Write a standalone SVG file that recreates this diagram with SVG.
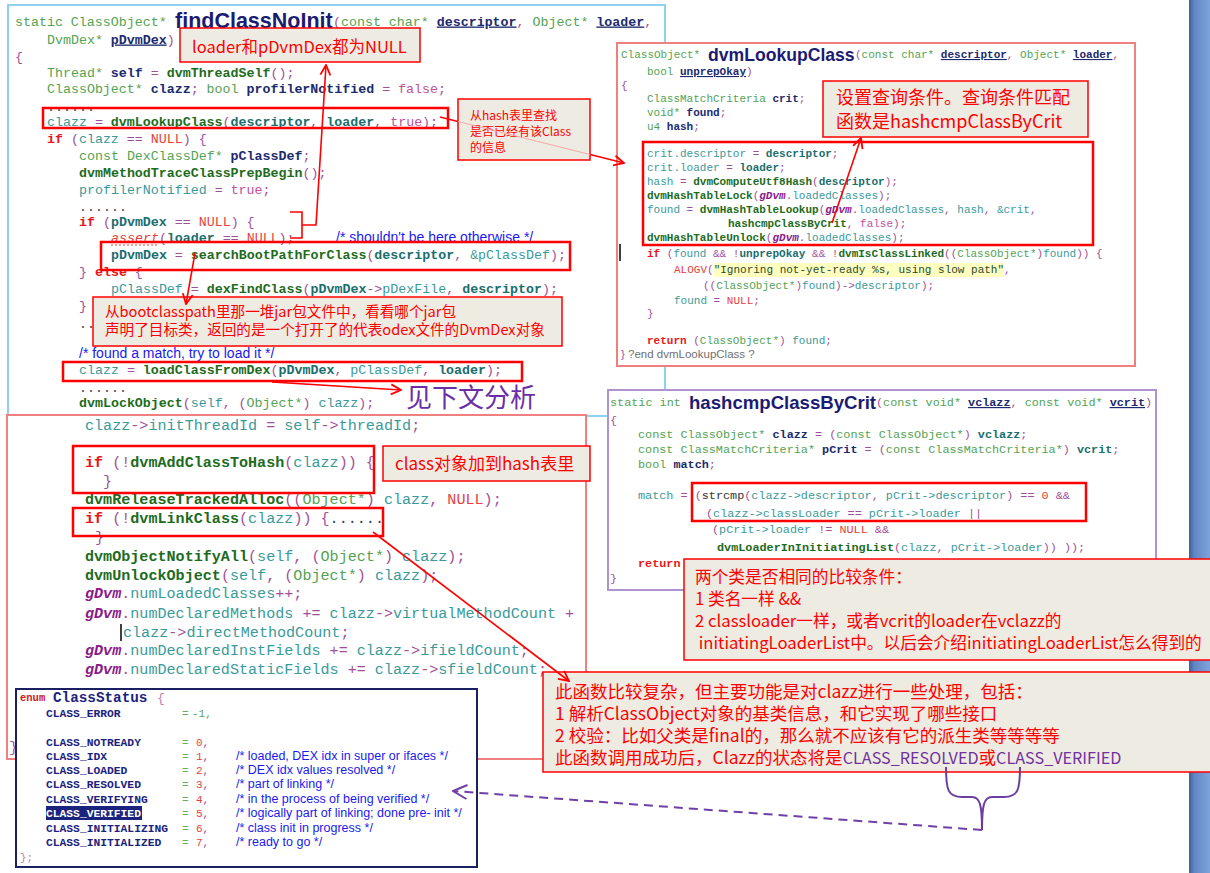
<svg xmlns="http://www.w3.org/2000/svg" width="1210" height="873" viewBox="0 0 1210 873" xml:space="preserve">
<defs>
<style>
.m{font-family:"Liberation Mono",monospace;white-space:pre}
.s13{font-size:13.3px}
.s15{font-size:15.1px}
.s11{font-size:11px}
.s118{font-size:11.8px}
.se{font-size:11.3px;font-weight:bold;fill:#1a237e}
.ty{fill:#53a353}
.v{fill:#1c2a6e;font-weight:bold}
.p{fill:#1c2a6e;font-weight:bold;text-decoration:underline}
.fn{fill:#1d6b1d;font-weight:bold}
.kw{fill:#e8161b;font-weight:bold}
.nu{fill:#e84040}
.pu{fill:#a0509a}
.t{fill:#3a9a9a}
.tb{fill:#1a6e6e;font-weight:bold}
.pk{fill:#c0509a}
.gd{fill:#8b1a8b;font-weight:bold;font-style:italic}
.dk{fill:#334455}
.cm{font-family:"Liberation Sans",Arial,sans-serif;fill:#1a1aee;white-space:pre}
.title{font-family:"Liberation Sans",Arial,sans-serif;font-weight:bold;fill:#1b1b72}
.call{fill:#eeece2;stroke:#ff0000;stroke-width:1.5}
.ct{font-family:"Noto Sans CJK SC","Noto Sans",sans-serif;fill:#ff0000;white-space:pre}
.cv{fill:#7030a0}
.hl{fill:none;stroke:#ff0000;stroke-width:2.5}
.conn{fill:none;stroke:#ff0000;stroke-width:1.6}
.node{fill:#ffffff}
</style>
<marker id="ar" viewBox="0 0 12 12" refX="11" refY="6" markerWidth="12" markerHeight="12" markerUnits="userSpaceOnUse" orient="auto"><path d="M1,1 L11,6 L1,11" fill="none" stroke="#ff0000" stroke-width="1.8"/></marker>
<marker id="ap" viewBox="0 0 16 16" refX="15" refY="8" markerWidth="16" markerHeight="16" markerUnits="userSpaceOnUse" orient="auto"><path d="M1,1 L15,8 L1,15" fill="none" stroke="#7040a8" stroke-width="2"/></marker>
<linearGradient id="strip" x1="0" x2="1" y1="0" y2="0"><stop offset="0" stop-color="#3f5f95"/><stop offset="0.25" stop-color="#6286c4"/><stop offset="1" stop-color="#7ea3dc"/></linearGradient>
</defs>
<rect x="0" y="0" width="1210" height="873" fill="#ffffff"/>
<rect x="1189" y="0" width="21" height="873" fill="url(#strip)"/>

<g id="findClassNoInit">
<rect x="8" y="5" width="657" height="411" fill="#ffffff" stroke="#8fd0ee" stroke-width="2"/>
<text class="m s13" x="15" y="25.5"><tspan class="ty">static ClassObject* </tspan></text>
<text class="title" x="175" y="28" font-size="21.5">findClassNoInit</text>
<text class="m s13" x="333" y="25.5"><tspan class="pu">(</tspan><tspan class="ty">const char* </tspan><tspan class="p">descriptor</tspan><tspan class="pu">, </tspan><tspan class="ty">Object* </tspan><tspan class="p">loader</tspan><tspan class="pu">,</tspan></text>
<text class="m s13" x="47" y="43.5"><tspan class="ty">DvmDex* </tspan><tspan class="p">pDvmDex</tspan><tspan class="pu">)</tspan></text>
<text class="m s13" x="15" y="61"><tspan class="pu">{</tspan></text>
<text class="m s13" x="47" y="76.5"><tspan class="ty">Thread* </tspan><tspan class="v">self</tspan><tspan class="pu"> = </tspan><tspan class="fn">dvmThreadSelf</tspan><tspan class="pu">();</tspan></text>
<text class="m s13" x="47" y="93"><tspan class="ty">ClassObject* </tspan><tspan class="v">clazz</tspan><tspan class="pu">; </tspan><tspan class="ty">bool </tspan><tspan class="v">profilerNotified</tspan><tspan class="pu"> = </tspan><tspan class="pk">false</tspan><tspan class="pu">;</tspan></text>
<text class="m s13 dk" x="47" y="111">......</text>
<text class="m s13" x="47" y="126"><tspan class="t">clazz</tspan><tspan class="pu"> = </tspan><tspan class="fn">dvmLookupClass</tspan><tspan class="pu">(</tspan><tspan class="tb">descriptor</tspan><tspan class="pu">, </tspan><tspan class="tb">loader</tspan><tspan class="pu">, </tspan><tspan class="pk">true</tspan><tspan class="pu">);</tspan></text>
<text class="m s13" x="47" y="142.5"><tspan class="kw">if</tspan><tspan class="pu"> (</tspan><tspan class="t">clazz</tspan><tspan class="pu"> == </tspan><tspan class="nu">NULL</tspan><tspan class="pu">) {</tspan></text>
<text class="m s13" x="79" y="159.5"><tspan class="ty">const DexClassDef* </tspan><tspan class="v">pClassDef</tspan><tspan class="pu">;</tspan></text>
<text class="m s13" x="79" y="176.5"><tspan class="fn">dvmMethodTraceClassPrepBegin</tspan><tspan class="pu">();</tspan></text>
<text class="m s13" x="79" y="193.5"><tspan class="t">profilerNotified</tspan><tspan class="pu"> = </tspan><tspan class="pk">true</tspan><tspan class="pu">;</tspan></text>
<text class="m s13 dk" x="79" y="211">......</text>
<text class="m s13" x="79" y="225.5"><tspan class="kw">if</tspan><tspan class="pu"> (</tspan><tspan class="tb">pDvmDex</tspan><tspan class="pu"> == </tspan><tspan class="nu">NULL</tspan><tspan class="pu">) {</tspan></text>
<text class="m s13" x="111" y="241.5"><tspan class="nu" font-style="italic">assert</tspan><tspan class="pu">(</tspan><tspan class="tb">loader</tspan><tspan class="pu"> == </tspan><tspan class="nu">NULL</tspan><tspan class="pu">);</tspan></text>
<line x1="111" y1="245" x2="159" y2="245" stroke="#e84040" stroke-width="1" stroke-dasharray="2,2"/>
<text class="cm" x="336" y="242" font-size="14">/* shouldn't be here otherwise */</text>
<text class="m s13" x="111" y="258.5"><tspan class="tb">pDvmDex</tspan><tspan class="pu"> = </tspan><tspan class="fn">searchBootPathForClass</tspan><tspan class="pu">(</tspan><tspan class="tb">descriptor</tspan><tspan class="pu">, </tspan><tspan class="t">&amp;pClassDef</tspan><tspan class="pu">);</tspan></text>
<text class="m s13" x="79" y="275.5"><tspan class="pu">} </tspan><tspan class="kw">else</tspan><tspan class="pu"> {</tspan></text>
<text class="m s13" x="111" y="292.5"><tspan class="t">pClassDef</tspan><tspan class="pu"> = </tspan><tspan class="fn">dexFindClass</tspan><tspan class="pu">(</tspan><tspan class="tb">pDvmDex</tspan><tspan class="pu">-&gt;</tspan><tspan class="t">pDexFile</tspan><tspan class="pu">, </tspan><tspan class="tb">descriptor</tspan><tspan class="pu">);</tspan></text>
<text class="m s13" x="79" y="309.5"><tspan class="pu">}</tspan></text>
<text class="m s13 dk" x="79" y="327.5">..</text>
<text class="cm" x="79" y="358" font-size="14">/* found a match, try to load it */</text>
<text class="m s13" x="79" y="373.5"><tspan class="t">clazz</tspan><tspan class="pu"> = </tspan><tspan class="fn">loadClassFromDex</tspan><tspan class="pu">(</tspan><tspan class="tb">pDvmDex</tspan><tspan class="pu">, </tspan><tspan class="t">pClassDef</tspan><tspan class="pu">, </tspan><tspan class="tb">loader</tspan><tspan class="pu">);</tspan></text>
<text class="m s13 dk" x="79" y="391.5">......</text>
<text class="m s13" x="79" y="406.5"><tspan class="fn">dvmLockObject</tspan><tspan class="pu">(</tspan><tspan class="t">self</tspan><tspan class="pu">, (</tspan><tspan class="ty">Object*</tspan><tspan class="pu">) </tspan><tspan class="t">clazz</tspan><tspan class="pu">);</tspan></text>
</g>

<g id="findClassNoInit-part2">
<rect x="7" y="415" width="579" height="344" fill="#ffffff" stroke="#f08080" stroke-width="2"/>
<text class="m s15" x="85" y="430"><tspan class="t">clazz</tspan><tspan class="pu">-&gt;</tspan><tspan class="t">initThreadId</tspan><tspan class="pu"> = </tspan><tspan class="t">self</tspan><tspan class="pu">-&gt;</tspan><tspan class="t">threadId</tspan><tspan class="pu">;</tspan></text>
<text class="m s15" x="85" y="467"><tspan class="kw">if</tspan><tspan class="pu"> (!</tspan><tspan class="fn">dvmAddClassToHash</tspan><tspan class="pu">(</tspan><tspan class="t">clazz</tspan><tspan class="pu">)) {</tspan></text>
<text class="m s15" x="103" y="486"><tspan class="pu">}</tspan></text>
<text class="m s15" x="85" y="504"><tspan class="fn">dvmReleaseTrackedAlloc</tspan><tspan class="pu">((</tspan><tspan class="ty">Object*</tspan><tspan class="pu">) </tspan><tspan class="t">clazz</tspan><tspan class="pu">, </tspan><tspan class="nu">NULL</tspan><tspan class="pu">);</tspan></text>
<text class="m s15" x="85" y="523"><tspan class="kw">if</tspan><tspan class="pu"> (!</tspan><tspan class="fn">dvmLinkClass</tspan><tspan class="pu">(</tspan><tspan class="t">clazz</tspan><tspan class="pu">)) {</tspan><tspan class="dk">......</tspan></text>
<text class="m s15" x="95" y="542"><tspan class="pu">}</tspan></text>
<text class="m s15" x="85" y="561"><tspan class="fn">dvmObjectNotifyAll</tspan><tspan class="pu">(</tspan><tspan class="t">self</tspan><tspan class="pu">, (</tspan><tspan class="ty">Object*</tspan><tspan class="pu">) </tspan><tspan class="t">clazz</tspan><tspan class="pu">);</tspan></text>
<text class="m s15" x="85" y="580"><tspan class="fn">dvmUnlockObject</tspan><tspan class="pu">(</tspan><tspan class="t">self</tspan><tspan class="pu">, (</tspan><tspan class="ty">Object*</tspan><tspan class="pu">) </tspan><tspan class="t">clazz</tspan><tspan class="pu">);</tspan></text>
<text class="m s15" x="85" y="598"><tspan class="gd">gDvm</tspan><tspan class="pu">.</tspan><tspan class="t">numLoadedClasses</tspan><tspan class="pu">++;</tspan></text>
<text class="m s15" x="85" y="618"><tspan class="gd">gDvm</tspan><tspan class="pu">.</tspan><tspan class="t">numDeclaredMethods</tspan><tspan class="pu"> += </tspan><tspan class="t">clazz</tspan><tspan class="pu">-&gt;</tspan><tspan class="t">virtualMethodCount</tspan><tspan class="pu"> +</tspan></text>
<line x1="121" y1="624" x2="121" y2="641" stroke="#000" stroke-width="1.5"/>
<text class="m s15" x="123" y="637"><tspan class="t">clazz</tspan><tspan class="pu">-&gt;</tspan><tspan class="t">directMethodCount</tspan><tspan class="pu">;</tspan></text>
<text class="m s15" x="85" y="655"><tspan class="gd">gDvm</tspan><tspan class="pu">.</tspan><tspan class="t">numDeclaredInstFields</tspan><tspan class="pu"> += </tspan><tspan class="t">clazz</tspan><tspan class="pu">-&gt;</tspan><tspan class="t">ifieldCount</tspan><tspan class="pu">;</tspan></text>
<text class="m s15" x="85" y="674"><tspan class="gd">gDvm</tspan><tspan class="pu">.</tspan><tspan class="t">numDeclaredStaticFields</tspan><tspan class="pu"> += </tspan><tspan class="t">clazz</tspan><tspan class="pu">-&gt;</tspan><tspan class="t">sfieldCount</tspan><tspan class="pu">;</tspan></text>
<text class="m s15" x="9" y="752"><tspan class="pu">}</tspan></text>
</g>

<g id="dvmLookupClass">
<rect x="617" y="43" width="518" height="323" class="node" stroke="#f08080" stroke-width="2"/>
<text class="m s11" x="621" y="58"><tspan class="ty">ClassObject* </tspan></text>
<text class="title" x="708" y="60.5" font-size="17.6">dvmLookupClass</text>
<text class="m s11" x="855" y="58"><tspan class="pu">(</tspan><tspan class="ty">const char* </tspan><tspan class="p">descriptor</tspan><tspan class="pu">, </tspan><tspan class="ty">Object* </tspan><tspan class="p">loader</tspan><tspan class="pu">,</tspan></text>
<text class="m s11" x="647" y="75"><tspan class="ty">bool </tspan><tspan class="p">unprepOkay</tspan><tspan class="pu">)</tspan></text>
<text class="m s11" x="621" y="89"><tspan class="pu">{</tspan></text>
<text class="m s11" x="647" y="102"><tspan class="ty">ClassMatchCriteria </tspan><tspan class="v">crit</tspan><tspan class="pu">;</tspan></text>
<text class="m s11" x="647" y="116"><tspan class="ty">void* </tspan><tspan class="v">found</tspan><tspan class="pu">;</tspan></text>
<text class="m s11" x="647" y="130"><tspan class="ty">u4 </tspan><tspan class="v">hash</tspan><tspan class="pu">;</tspan></text>
<text class="m s11" x="647" y="157"><tspan class="t">crit.descriptor</tspan><tspan class="pu"> = </tspan><tspan class="tb">descriptor</tspan><tspan class="pu">;</tspan></text>
<text class="m s11" x="647" y="171"><tspan class="t">crit.loader</tspan><tspan class="pu"> = </tspan><tspan class="tb">loader</tspan><tspan class="pu">;</tspan></text>
<text class="m s11" x="647" y="185"><tspan class="t">hash</tspan><tspan class="pu"> = </tspan><tspan class="fn">dvmComputeUtf8Hash</tspan><tspan class="pu">(</tspan><tspan class="tb">descriptor</tspan><tspan class="pu">);</tspan></text>
<text class="m s11" x="647" y="199"><tspan class="fn">dvmHashTableLock</tspan><tspan class="pu">(</tspan><tspan class="gd">gDvm</tspan><tspan class="pu">.</tspan><tspan class="t">loadedClasses</tspan><tspan class="pu">);</tspan></text>
<text class="m s11" x="647" y="213"><tspan class="t">found</tspan><tspan class="pu"> = </tspan><tspan class="fn">dvmHashTableLookup</tspan><tspan class="pu">(</tspan><tspan class="gd">gDvm</tspan><tspan class="pu">.</tspan><tspan class="t">loadedClasses</tspan><tspan class="pu">, </tspan><tspan class="t">hash</tspan><tspan class="pu">, </tspan><tspan class="t">&amp;crit</tspan><tspan class="pu">,</tspan></text>
<text class="m s11" x="728" y="227"><tspan class="fn">hashcmpClassByCrit</tspan><tspan class="pu">, </tspan><tspan class="pk">false</tspan><tspan class="pu">);</tspan></text>
<text class="m s11" x="647" y="241"><tspan class="fn">dvmHashTableUnlock</tspan><tspan class="pu">(</tspan><tspan class="gd">gDvm</tspan><tspan class="pu">.</tspan><tspan class="t">loadedClasses</tspan><tspan class="pu">);</tspan></text>
<line x1="620" y1="244" x2="620" y2="261" stroke="#000" stroke-width="1.5"/>
<text class="m s11" x="647" y="257"><tspan class="kw">if</tspan><tspan class="pu"> (</tspan><tspan class="t">found</tspan><tspan class="pu"> &amp;&amp; !</tspan><tspan class="tb">unprepOkay</tspan><tspan class="pu"> &amp;&amp; !</tspan><tspan class="fn">dvmIsClassLinked</tspan><tspan class="pu">((</tspan><tspan class="ty">ClassObject*</tspan><tspan class="pu">)</tspan><tspan class="t">found</tspan><tspan class="pu">)) {</tspan></text>
<rect x="714" y="263" width="290" height="14" fill="#ffffc0"/>
<text class="m s11" x="674" y="273"><tspan class="nu">ALOGV</tspan><tspan class="pu">(</tspan><tspan fill="#2a4a2a">"Ignoring not-yet-ready %s, using slow path"</tspan><tspan class="pu">,</tspan></text>
<text class="m s11" x="703" y="289"><tspan class="pu">((</tspan><tspan class="ty">ClassObject*</tspan><tspan class="pu">)</tspan><tspan class="t">found</tspan><tspan class="pu">)-&gt;</tspan><tspan class="t">descriptor</tspan><tspan class="pu">);</tspan></text>
<text class="m s11" x="674" y="304"><tspan class="t">found</tspan><tspan class="pu"> = </tspan><tspan class="nu">NULL</tspan><tspan class="pu">;</tspan></text>
<text class="m s11" x="647" y="317"><tspan class="pu">}</tspan></text>
<text class="m s11" x="647" y="344"><tspan class="kw">return</tspan><tspan class="pu"> (</tspan><tspan class="ty">ClassObject*</tspan><tspan class="pu">) </tspan><tspan class="t">found</tspan><tspan class="pu">;</tspan></text>
<text x="621" y="358" font-family="Liberation Sans, Arial, sans-serif" font-size="11.5" fill="#707070"><tspan fill="#a0509a">}</tspan> ?end dvmLookupClass ?</text>
</g>

<g id="hashcmpClassByCrit">
<rect x="608" y="390" width="548" height="200" class="node" stroke="#b094d0" stroke-width="2"/>
<text class="m s118" x="610" y="406"><tspan class="ty">static int </tspan></text>
<text class="title" x="689" y="409" font-size="18.6">hashcmpClassByCrit</text>
<text class="m s118" x="876" y="406"><tspan class="pu">(</tspan><tspan class="ty">const void* </tspan><tspan class="p">vclazz</tspan><tspan class="pu">, </tspan><tspan class="ty">const void* </tspan><tspan class="p">vcrit</tspan><tspan class="pu">)</tspan></text>
<text class="m s118" x="610" y="424"><tspan class="pu">{</tspan></text>
<text class="m s118" x="638" y="438"><tspan class="ty">const ClassObject* </tspan><tspan class="v">clazz</tspan><tspan class="pu"> = (</tspan><tspan class="ty">const ClassObject*</tspan><tspan class="pu">) </tspan><tspan class="tb">vclazz</tspan><tspan class="pu">;</tspan></text>
<text class="m s118" x="638" y="453"><tspan class="ty">const ClassMatchCriteria* </tspan><tspan class="v">pCrit</tspan><tspan class="pu"> = (</tspan><tspan class="ty">const ClassMatchCriteria*</tspan><tspan class="pu">) </tspan><tspan class="tb">vcrit</tspan><tspan class="pu">;</tspan></text>
<text class="m s118" x="638" y="468"><tspan class="ty">bool </tspan><tspan class="v">match</tspan><tspan class="pu">;</tspan></text>
<text class="m s118" x="638" y="499"><tspan class="t">match</tspan><tspan class="pu"> = (</tspan><tspan fill="#333">strcmp</tspan><tspan class="pu">(</tspan><tspan class="t">clazz-&gt;descriptor</tspan><tspan class="pu">, </tspan><tspan class="t">pCrit-&gt;descriptor</tspan><tspan class="pu">) == </tspan><tspan class="nu">0</tspan><tspan class="pu"> &amp;&amp;</tspan></text>
<text class="m s118" x="706" y="517"><tspan class="pu">(</tspan><tspan class="t">clazz-&gt;classLoader</tspan><tspan class="pu"> == </tspan><tspan class="t">pCrit-&gt;loader</tspan><tspan class="pu"> ||</tspan></text>
<text class="m s118" x="712" y="533"><tspan class="pu">(</tspan><tspan class="t">pCrit-&gt;loader</tspan><tspan class="pu"> != </tspan><tspan class="nu">NULL</tspan><tspan class="pu"> &amp;&amp;</tspan></text>
<text class="m s118" x="717" y="551"><tspan class="fn">dvmLoaderInInitiatingList</tspan><tspan class="pu">(</tspan><tspan class="t">clazz</tspan><tspan class="pu">, </tspan><tspan class="t">pCrit-&gt;loader</tspan><tspan class="pu">)) ));</tspan></text>
<text class="m s118" x="638" y="567"><tspan class="kw">return</tspan></text>
<text class="m s118" x="610" y="582"><tspan class="pu">}</tspan></text>
</g>

<g id="ClassStatus">
<rect x="16" y="689" width="461" height="178" class="node" stroke="#1a2060" stroke-width="2"/>
<text class="m" x="20" y="701" font-size="10.5" font-weight="bold" fill="#d01818">enum</text>
<text class="m" x="53" y="702" font-size="14.3" font-weight="bold" fill="#1a237e">ClassStatus</text>
<text class="m" x="157" y="702" font-size="13" fill="#c080b0">{</text>
<text class="m se" x="46" y="717">CLASS_ERROR</text><text class="m s11" x="182" y="717" fill="#60b060">=</text><text class="m s11" x="192" y="717" fill="#60a060">-1,</text>
<text class="m se" x="46" y="746">CLASS_NOTREADY</text><text class="m s11" x="182" y="746" fill="#60b060">=</text><text class="m s11" x="196" y="746"><tspan class="nu">0</tspan><tspan class="pu">,</tspan></text>
<text class="m se" x="46" y="760">CLASS_IDX</text><text class="m s11" x="182" y="760" fill="#60b060">=</text><text class="m s11" x="196" y="760"><tspan class="nu">1</tspan><tspan class="pu">,</tspan></text>
<text class="cm" x="236" y="760" font-size="12.5">/* loaded, DEX idx in super or ifaces */</text>
<text class="m se" x="46" y="774">CLASS_LOADED</text><text class="m s11" x="182" y="774" fill="#60b060">=</text><text class="m s11" x="196" y="774"><tspan class="nu">2</tspan><tspan class="pu">,</tspan></text>
<text class="cm" x="236" y="774" font-size="12.5">/* DEX idx values resolved */</text>
<text class="m se" x="46" y="788">CLASS_RESOLVED</text><text class="m s11" x="182" y="788" fill="#60b060">=</text><text class="m s11" x="196" y="788"><tspan class="nu">3</tspan><tspan class="pu">,</tspan></text>
<text class="cm" x="236" y="788" font-size="12.5">/* part of linking */</text>
<text class="m se" x="46" y="803">CLASS_VERIFYING</text><text class="m s11" x="182" y="803" fill="#60b060">=</text><text class="m s11" x="196" y="803"><tspan class="nu">4</tspan><tspan class="pu">,</tspan></text>
<text class="cm" x="236" y="803" font-size="12.5">/* in the process of being verified */</text>
<rect x="46" y="806" width="96" height="14" fill="#1a237e"/>
<text class="m" x="46" y="817" font-size="11.3" font-weight="bold" fill="#ffffff">CLASS_VERIFIED</text><text class="m s11" x="182" y="817" fill="#60b060">=</text><text class="m s11" x="196" y="817"><tspan class="nu">5</tspan><tspan class="pu">,</tspan></text>
<text class="cm" x="236" y="817" font-size="12.5">/* logically part of linking; done pre- init */</text>
<text class="m se" x="46" y="832">CLASS_INITIALIZING</text><text class="m s11" x="182" y="832" fill="#60b060">=</text><text class="m s11" x="196" y="832"><tspan class="nu">6</tspan><tspan class="pu">,</tspan></text>
<text class="cm" x="236" y="832" font-size="12.5">/* class init in progress */</text>
<text class="m se" x="46" y="846">CLASS_INITIALIZED</text><text class="m s11" x="182" y="846" fill="#60b060">=</text><text class="m s11" x="196" y="846"><tspan class="nu">7</tspan><tspan class="pu">,</tspan></text>
<text class="cm" x="236" y="846" font-size="12.5">/* ready to go */</text>
<text class="m s11" x="20" y="861" fill="#c080b0">};</text>
</g>

<g id="highlights">
<rect class="hl" x="43" y="108" width="405" height="20"/>
<rect class="hl" x="101" y="242" width="469" height="28"/>
<rect class="hl" x="63" y="362" width="459" height="19"/>
<rect class="hl" x="73" y="446" width="301" height="47"/>
<rect class="hl" x="73" y="508" width="310" height="28"/>
<rect class="hl" x="643" y="142" width="450" height="103"/>
<rect class="hl" x="692" y="483" width="394" height="38"/>
</g>

<g id="note-null">
<rect class="call" x="180" y="28" width="240" height="34"/>
<text class="ct" x="192" y="53" font-size="16.5">loader和pDvmDex都为NULL</text>
</g>
<g id="note-hash">
<rect class="call" x="458" y="99" width="132" height="61"/>
<text class="ct" x="470" y="119.5" font-size="12">从hash表里查找</text>
<text class="ct" x="470" y="135.5" font-size="12">是否已经有该Class</text>
<text class="ct" x="470" y="151.5" font-size="12">的信息</text>
</g>
<g id="note-bootpath">
<rect class="call" x="93" y="297" width="469" height="49"/>
<text class="ct" x="105" y="317" font-size="14.6">从bootclasspath里那一堆jar包文件中，看看哪个jar包</text>
<text class="ct" x="105" y="335" font-size="14.6">声明了目标类，返回的是一个打开了的代表odex文件的DvmDex对象</text>
</g>
<g id="note-see-below">
<text x="406" y="407" font-family="Noto Sans CJK SC, sans-serif" font-size="26" fill="#6a2fa8">见下文分析</text>
</g>
<g id="note-crit">
<rect class="call" x="823" y="81" width="265" height="56"/>
<text class="ct" x="836" y="104" font-size="18">设置查询条件。查询条件匹配</text>
<text class="ct" x="836" y="128" font-size="18">函数是hashcmpClassByCrit</text>
</g>
<g id="note-addhash">
<rect class="call" x="383" y="446" width="207" height="35"/>
<text class="ct" x="395" y="470" font-size="17">class对象加到hash表里</text>
</g>
<g id="note-compare">
<rect class="call" x="684" y="559" width="532" height="101"/>
<text class="ct" x="695" y="583" font-size="16.7">两个类是否相同的比较条件：</text>
<text class="ct" x="695" y="605" font-size="16.7">1 类名一样 &amp;&amp;</text>
<text class="ct" x="695" y="627" font-size="16.7">2 classloader一样，或者vcrit的loader在vclazz的</text>
<text class="ct" x="695" y="649" font-size="16.7"> initiatingLoaderList中。以后会介绍initiatingLoaderList怎么得到的</text>
</g>
<g id="note-link">
<rect class="call" x="543" y="672" width="673" height="100"/>
<text class="ct" x="555" y="698" font-size="17.5">此函数比较复杂，但主要功能是对clazz进行一些处理，包括：</text>
<text class="ct" x="555" y="720" font-size="17.5">1 解析ClassObject对象的基类信息，和它实现了哪些接口</text>
<text class="ct" x="555" y="742" font-size="17.5">2 校验：比如父类是final的，那么就不应该有它的派生类等等等等</text>
<text class="ct" x="555" y="764" font-size="17.5">此函数调用成功后，Clazz的状态将是<tspan class="cv" font-size="16.2">CLASS_RESOLVED</tspan>或<tspan class="cv" font-size="16.2">CLASS_VERIFIED</tspan></text>
</g>

<g id="connectors">
<path class="conn" d="M290,212 H302 V238 H290 M302,225 H316 L326,65" marker-end="url(#ar)"/>
<line class="conn" x1="440" y1="117" x2="458" y2="121.5"/>
<line x1="458" y1="121.5" x2="590" y2="154.5" stroke="#f4a8a8" stroke-width="1"/>
<line class="conn" x1="590" y1="154.5" x2="624" y2="163" marker-end="url(#ar)"/>
<line class="conn" x1="195" y1="253" x2="186" y2="304" marker-end="url(#ar)"/>
<line class="conn" x1="272" y1="382" x2="401" y2="390" marker-end="url(#ar)"/>
<line class="conn" x1="373" y1="532" x2="569" y2="681" marker-end="url(#ar)"/>
<line class="conn" x1="832" y1="223" x2="861" y2="138" marker-end="url(#ar)"/>
<path d="M946,767 C946,790 948,797 962,797 L972,797 C980,797 982,805 982,830 M1020,767 C1020,790 1018,797 1004,797 L992,797 C984,797 982,805 982,830" fill="none" stroke="#6b3fa0" stroke-width="2"/>
<line x1="982" y1="830" x2="453" y2="791" stroke="#7040a8" stroke-width="2" stroke-dasharray="9,6" marker-end="url(#ap)"/>
</g>
</svg>
